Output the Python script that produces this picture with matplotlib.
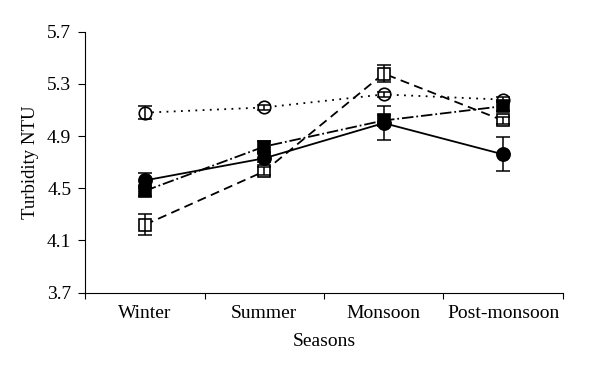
import matplotlib.pyplot as plt
import numpy as np

seasons = ['Winter', 'Summer', 'Monsoon', 'Post-monsoon']

# four sites
open_circle = [5.08, 5.12, 5.22, 5.18]
open_circle_err = [0.05, 0.02, 0.02, 0.02]
open_square = [4.22, 4.63, 5.38, 5.02]
open_square_err = [0.08, 0.03, 0.065, 0.03]
filled_square = [4.48, 4.82, 5.02, 5.13]
filled_square_err = [0.04, 0.04, 0.04, 0.04]
filled_circle = [4.56, 4.73, 5.00, 4.76]
filled_circle_err = [0.06, 0.03, 0.13, 0.13]

plt.rcParams['font.family'] = ['Liberation Serif', 'DejaVu Serif']

fig = plt.figure(figsize=(6, 3.75), dpi=100)
ax = fig.add_axes([0.142, 0.22, 0.796, 0.695])

x = np.arange(len(seasons))

series = [
    (open_circle, open_circle_err, (0, (1, 3)), 'o', 'white', 9),
    (open_square, open_square_err, (0, (5, 3)), 's', 'white', 8.5),
    (filled_square, filled_square_err, '-.', 's', 'k', 8.5),
    (filled_circle, filled_circle_err, '-', 'o', 'k', 9.5),
]
for vals, err, ls, mk, fc, ms in series:
    ax.plot(x, vals, color='k', ls=ls, lw=1.3, marker=mk, ms=ms,
            mfc=fc, mec='k', mew=1.2, zorder=2)
    # error bars drawn over the markers, as in the original
    ax.errorbar(x, vals, yerr=err, fmt='none', ecolor='k', elinewidth=1.1,
                capsize=5, capthick=1.1, zorder=3)

ax.set_xlim(-0.5, 3.5)
ax.set_ylim(3.7, 5.7)
ax.set_yticks([3.7, 4.1, 4.5, 4.9, 5.3, 5.7])
ax.set_yticklabels(['3.7', '4.1', '4.5', '4.9', '5.3', '5.7'])

# ticks at category boundaries, labels at centers
ax.set_xticks(np.arange(-0.5, 4, 1))
ax.set_xticklabels([])
ax.set_xticks(x, minor=True)
ax.set_xticklabels(seasons, minor=True)
ax.tick_params(axis='x', which='minor', length=0, labelsize=14, pad=9)
ax.tick_params(axis='x', which='major', length=4, direction='out')
ax.tick_params(axis='y', length=5, direction='out', labelsize=14, pad=5)

ax.spines['top'].set_visible(False)
ax.spines['right'].set_visible(False)

ax.set_xlabel('Seasons', fontsize=14, labelpad=8)
ax.set_ylabel('Turbidity NTU', fontsize=13.5, labelpad=6)

fig.savefig('out.png', dpi=100)
